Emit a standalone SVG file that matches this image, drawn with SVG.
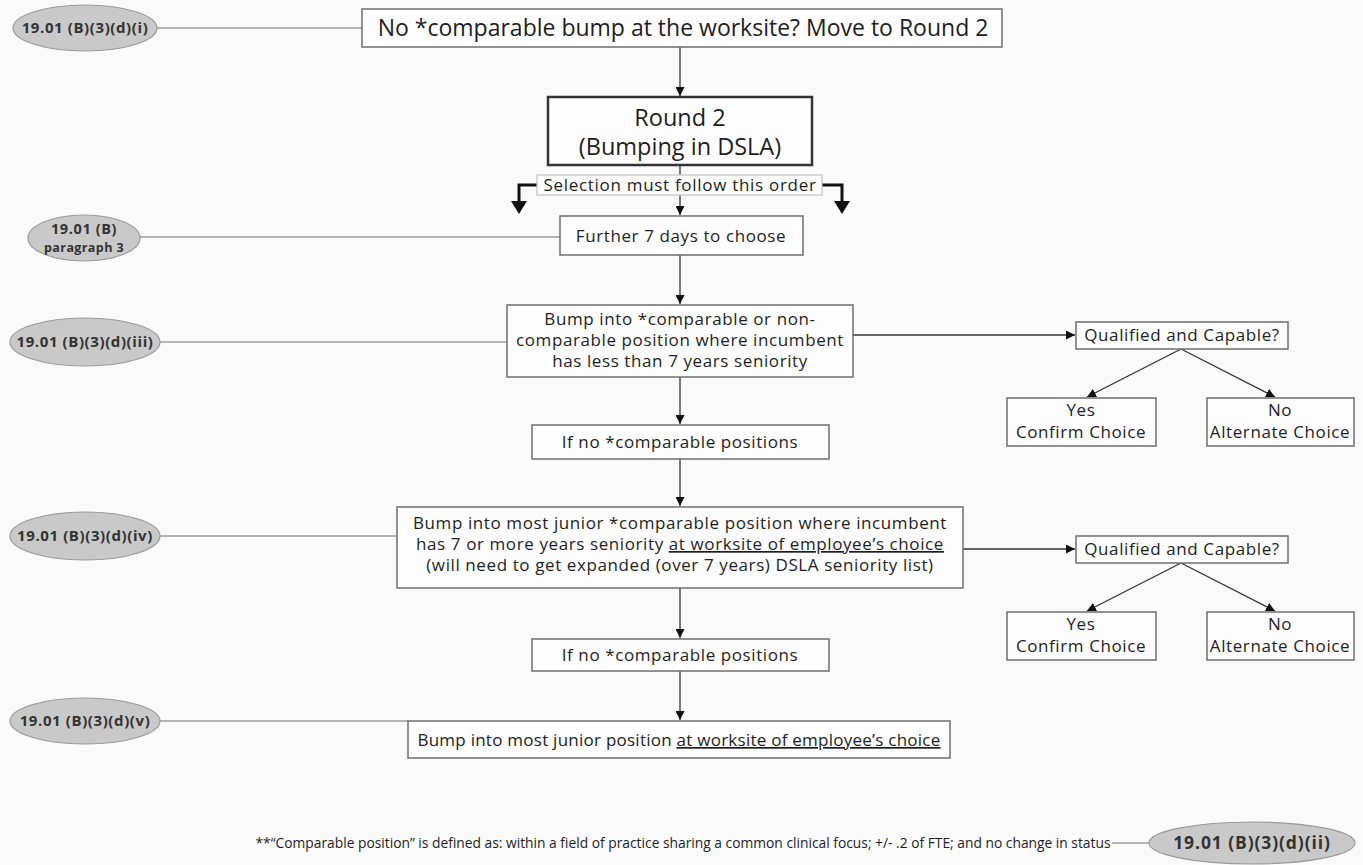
<svg xmlns="http://www.w3.org/2000/svg" width="1363" height="865" viewBox="0 0 1363 865">
<style>
text{font-family:"Open Sans","Liberation Sans",sans-serif;fill:#1e1e1e;text-anchor:middle}
.box{fill:#fdfdfd;stroke:#6e6e6e;stroke-width:1.5}
.ell{fill:#c9c9c9;stroke:#9a9a9a;stroke-width:1.2}
.et{font-size:15px;font-weight:bold;fill:#333;letter-spacing:0.6px}
.t17{font-size:17px;letter-spacing:0.6px}
.ln{stroke:#9c9c9c;stroke-width:1.5;fill:none}
.ar{stroke:#333;stroke-width:1.3;fill:none}
.u{text-decoration:underline}
</style>
<defs>
<marker id="ah" viewBox="0 0 10 10" refX="10" refY="5" markerWidth="9" markerHeight="9" markerUnits="userSpaceOnUse" orient="auto"><path d="M0,0 L10,5 L0,10 Z" fill="#111"/></marker>
</defs>
<rect width="1363" height="865" fill="#fafafa"/>
<g id="connectors">
<line class="ln" x1="157" y1="28" x2="362" y2="28"/>
<line class="ar" x1="680" y1="47" x2="680" y2="96" marker-end="url(#ah)"/>
<line class="ar" x1="680" y1="165" x2="680" y2="175"/>
<path d="M537,185 H519 V203" stroke="#111" stroke-width="3" fill="none"/>
<polygon points="511,201 527,201 519,214" fill="#111"/>
<path d="M822,185 H842 V203" stroke="#111" stroke-width="3" fill="none"/>
<polygon points="834,201 850,201 842,214" fill="#111"/>
<line class="ar" x1="680" y1="195" x2="680" y2="215" marker-end="url(#ah)"/>
<line class="ln" x1="140" y1="237" x2="560" y2="237"/>
<line class="ar" x1="680" y1="255" x2="680" y2="304" marker-end="url(#ah)"/>
<line class="ln" x1="160" y1="342" x2="507" y2="342"/>
<line class="ar" x1="853" y1="335" x2="1075" y2="335" marker-end="url(#ah)"/>
<line class="ar" x1="1181" y1="349" x2="1087" y2="397" marker-end="url(#ah)"/>
<line class="ar" x1="1181" y1="349" x2="1275" y2="397" marker-end="url(#ah)"/>
<line class="ar" x1="680" y1="377" x2="680" y2="424" marker-end="url(#ah)"/>
<line class="ar" x1="680" y1="459" x2="680" y2="506" marker-end="url(#ah)"/>
<line class="ln" x1="160" y1="536" x2="397" y2="536"/>
<line class="ar" x1="963" y1="549" x2="1075" y2="549" marker-end="url(#ah)"/>
<line class="ar" x1="1181" y1="563" x2="1087" y2="611" marker-end="url(#ah)"/>
<line class="ar" x1="1181" y1="563" x2="1275" y2="611" marker-end="url(#ah)"/>
<line class="ar" x1="680" y1="588" x2="680" y2="638" marker-end="url(#ah)"/>
<line class="ar" x1="680" y1="671" x2="680" y2="720" marker-end="url(#ah)"/>
<line class="ln" x1="160" y1="721" x2="408" y2="721"/>
<line class="ln" x1="1112" y1="843" x2="1150" y2="843"/>
</g>
<g id="e1"><ellipse class="ell" cx="85" cy="28" rx="72" ry="23"/><text class="et" x="85" y="33">19.01 (B)(3)(d)(i)</text></g>
<g id="n-top"><rect class="box" x="362" y="9" width="640" height="38"/><text x="683" y="36" style="font-size:23px">No *comparable bump at the worksite? Move to Round 2</text></g>
<g id="n-round2"><rect x="548" y="97" width="264" height="68" fill="#fdfdfd" stroke="#333" stroke-width="2.5"/><text x="680" y="126" style="font-size:23.5px">Round 2</text><text x="680" y="155" style="font-size:23.5px">(Bumping in DSLA)</text></g>
<g id="n-sel"><rect x="537" y="175" width="285" height="20" fill="#fdfdfd" stroke="#c4c4c4" stroke-width="1.2"/><text x="680" y="191" style="font-size:17px;letter-spacing:0.7px">Selection must follow this order</text></g>
<g id="e2"><ellipse class="ell" cx="84" cy="238" rx="56" ry="23"/><text class="et" x="84" y="234" style="font-size:14.5px">19.01 (B)</text><text x="84" y="252" style="font-size:12.5px;font-weight:bold;fill:#333;letter-spacing:0.4px">paragraph 3</text></g>
<g id="n-further"><rect class="box" x="560" y="216" width="243" height="39"/><text class="t17" x="681" y="242">Further 7 days to choose</text></g>
<g id="e3"><ellipse class="ell" cx="85" cy="342" rx="75" ry="24"/><text class="et" x="85" y="347">19.01 (B)(3)(d)(iii)</text></g>
<g id="n-bump1"><rect class="box" x="507" y="305" width="346" height="72"/><text class="t17" x="680" y="325">Bump into *comparable or non-</text><text class="t17" x="680" y="346">comparable position where incumbent</text><text class="t17" x="680" y="367">has less than 7 years seniority</text></g>
<g id="n-qc1"><rect class="box" x="1076" y="322" width="212" height="27"/><text class="t17" x="1182" y="341">Qualified and Capable?</text></g>
<g id="n-yes1"><rect class="box" x="1007" y="398" width="149" height="48"/><text class="t17" x="1081" y="416">Yes</text><text class="t17" x="1081" y="438">Confirm Choice</text></g>
<g id="n-no1"><rect class="box" x="1207" y="398" width="147" height="48"/><text class="t17" x="1280" y="416">No</text><text class="t17" x="1280" y="438">Alternate Choice</text></g>
<g id="n-ifno1"><rect class="box" x="532" y="425" width="297" height="34"/><text class="t17" x="680" y="448">If no *comparable positions</text></g>
<g id="e4"><ellipse class="ell" cx="85" cy="536" rx="75" ry="24"/><text class="et" x="85" y="541">19.01 (B)(3)(d)(iv)</text></g>
<g id="n-bump2"><rect class="box" x="397" y="507" width="566" height="81"/><text class="t17" x="680" y="529">Bump into most junior *comparable position where incumbent</text><text class="t17" x="680" y="550">has 7 or more years seniority <tspan class="u">at worksite of employee’s choice</tspan></text><text class="t17" x="680" y="571">(will need to get expanded (over 7 years) DSLA seniority list)</text></g>
<g id="n-qc2"><rect class="box" x="1076" y="536" width="212" height="27"/><text class="t17" x="1182" y="555">Qualified and Capable?</text></g>
<g id="n-yes2"><rect class="box" x="1007" y="612" width="149" height="48"/><text class="t17" x="1081" y="630">Yes</text><text class="t17" x="1081" y="652">Confirm Choice</text></g>
<g id="n-no2"><rect class="box" x="1207" y="612" width="147" height="48"/><text class="t17" x="1280" y="630">No</text><text class="t17" x="1280" y="652">Alternate Choice</text></g>
<g id="n-ifno2"><rect class="box" x="532" y="639" width="297" height="32"/><text class="t17" x="680" y="661">If no *comparable positions</text></g>
<g id="e5"><ellipse class="ell" cx="85" cy="721" rx="75" ry="23"/><text class="et" x="85" y="726">19.01 (B)(3)(d)(v)</text></g>
<g id="n-final"><rect class="box" x="408" y="721" width="542" height="37"/><text x="679" y="746" style="font-size:17px;letter-spacing:0.25px">Bump into most junior position <tspan class="u">at worksite of employee’s choice</tspan></text></g>
<g id="footnote"><text x="683" y="848" style="font-size:14.5px" textLength="855" lengthAdjust="spacingAndGlyphs">**“Comparable position” is defined as: within a field of practice sharing a common clinical focus; +/- .2 of FTE; and no change in status</text></g>
<g id="e6"><ellipse class="ell" cx="1252" cy="843" rx="103" ry="21"/><text class="et" x="1252" y="849" style="font-size:17.5px;letter-spacing:0.9px">19.01 (B)(3)(d)(ii)</text></g>
</svg>
